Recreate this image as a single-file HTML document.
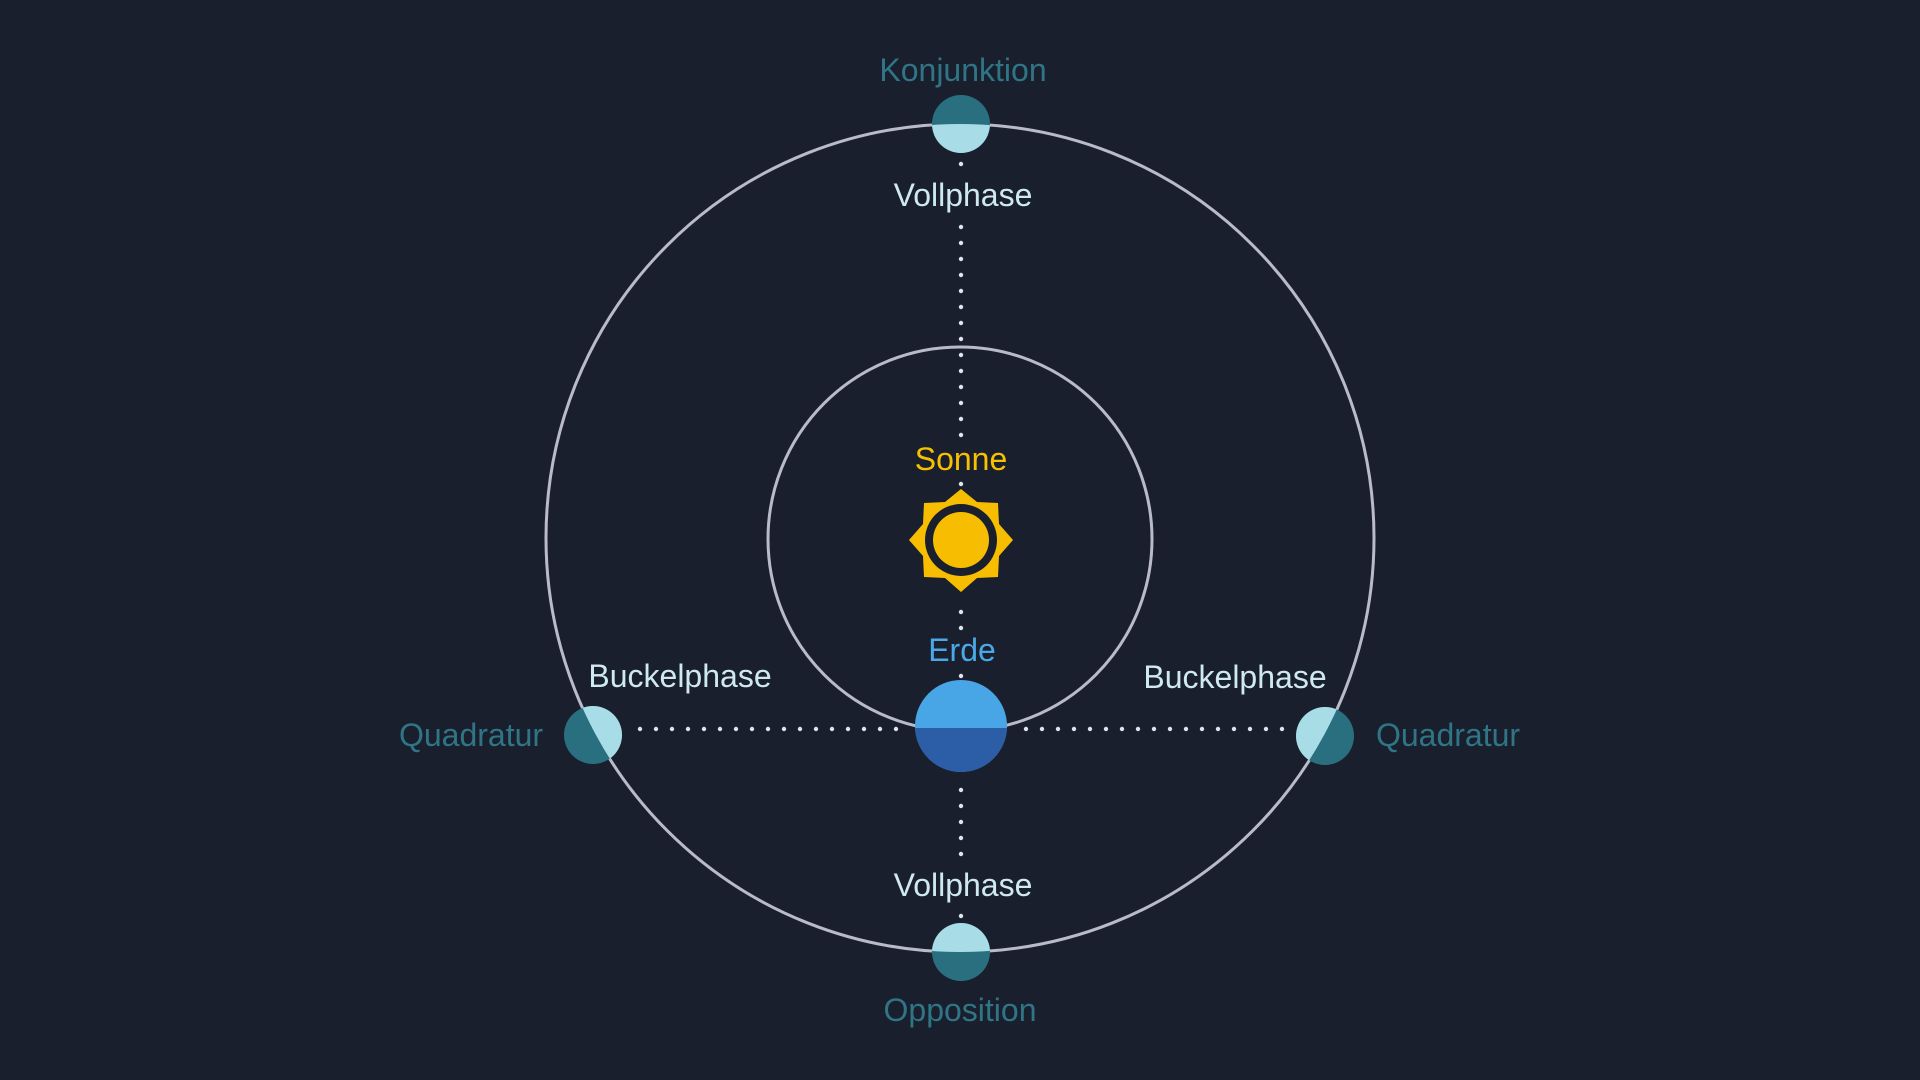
<!DOCTYPE html>
<html><head><meta charset="utf-8"><style>
html,body{margin:0;padding:0;background:#1a1f2e;}
svg{display:block}
text{font-family:"Liberation Sans",sans-serif;font-size:32px;text-anchor:middle;dominant-baseline:central}
</style></head><body>
<svg width="1920" height="1080" viewBox="0 0 1920 1080">
<defs>
<clipPath id="inO"><circle cx="960" cy="538" r="414"/></clipPath>
</defs>
<rect width="1920" height="1080" fill="#1a1f2e"/>
<circle cx="960" cy="538" r="414" fill="none" stroke="#b9bcc8" stroke-width="3"/>
<circle cx="960" cy="539" r="192" fill="none" stroke="#b9bcc8" stroke-width="3"/>
<g fill="#dde6ee">
<circle cx="961" cy="164" r="2.2"/>
<circle cx="961" cy="227" r="2.2"/><circle cx="961" cy="243" r="2.2"/><circle cx="961" cy="259" r="2.2"/><circle cx="961" cy="275" r="2.2"/><circle cx="961" cy="291" r="2.2"/><circle cx="961" cy="307" r="2.2"/><circle cx="961" cy="323" r="2.2"/><circle cx="961" cy="339" r="2.2"/><circle cx="961" cy="355" r="2.2"/><circle cx="961" cy="371" r="2.2"/><circle cx="961" cy="387" r="2.2"/><circle cx="961" cy="403" r="2.2"/><circle cx="961" cy="419" r="2.2"/><circle cx="961" cy="435" r="2.2"/>
<circle cx="961" cy="484" r="2.2"/>
<circle cx="961" cy="612" r="2.2"/><circle cx="961" cy="628" r="2.2"/>
<circle cx="961" cy="676" r="2.2"/>
<circle cx="961" cy="790" r="2.2"/><circle cx="961" cy="806" r="2.2"/><circle cx="961" cy="822" r="2.2"/><circle cx="961" cy="838" r="2.2"/><circle cx="961" cy="854" r="2.2"/>
<circle cx="961" cy="916" r="2.2"/>
</g>
<g fill="#dde6ee" id="hd">
<circle cx="640" cy="729" r="2.2"/><circle cx="656" cy="729" r="2.2"/><circle cx="672" cy="729" r="2.2"/><circle cx="688" cy="729" r="2.2"/><circle cx="704" cy="729" r="2.2"/><circle cx="720" cy="729" r="2.2"/><circle cx="736" cy="729" r="2.2"/><circle cx="752" cy="729" r="2.2"/><circle cx="768" cy="729" r="2.2"/><circle cx="784" cy="729" r="2.2"/><circle cx="800" cy="729" r="2.2"/><circle cx="816" cy="729" r="2.2"/><circle cx="832" cy="729" r="2.2"/><circle cx="848" cy="729" r="2.2"/><circle cx="864" cy="729" r="2.2"/><circle cx="880" cy="729" r="2.2"/><circle cx="896" cy="729" r="2.2"/>
<circle cx="1026" cy="729" r="2.2"/><circle cx="1042" cy="729" r="2.2"/><circle cx="1058" cy="729" r="2.2"/><circle cx="1074" cy="729" r="2.2"/><circle cx="1090" cy="729" r="2.2"/><circle cx="1106" cy="729" r="2.2"/><circle cx="1122" cy="729" r="2.2"/><circle cx="1138" cy="729" r="2.2"/><circle cx="1154" cy="729" r="2.2"/><circle cx="1170" cy="729" r="2.2"/><circle cx="1186" cy="729" r="2.2"/><circle cx="1202" cy="729" r="2.2"/><circle cx="1218" cy="729" r="2.2"/><circle cx="1234" cy="729" r="2.2"/><circle cx="1250" cy="729" r="2.2"/><circle cx="1266" cy="729" r="2.2"/><circle cx="1282" cy="729" r="2.2"/>
</g>
<!-- moons: dark full, light clipped to inside orbit -->
<g>
<circle cx="961" cy="124" r="29" fill="#2a6f80"/>
<circle cx="961" cy="124" r="29" fill="#a8dce6" clip-path="url(#inO)"/>
<circle cx="961" cy="952" r="29" fill="#2a6f80"/>
<circle cx="961" cy="952" r="29" fill="#a8dce6" clip-path="url(#inO)"/>
<circle cx="593" cy="735" r="29" fill="#2a6f80"/>
<circle cx="593" cy="735" r="29" fill="#a8dce6" clip-path="url(#inO)"/>
<circle cx="1325" cy="736" r="29" fill="#2a6f80"/>
<circle cx="1325" cy="736" r="29" fill="#a8dce6" clip-path="url(#inO)"/>
</g>
<!-- earth -->
<clipPath id="eb"><rect x="900" y="728" width="120" height="60"/></clipPath>
<circle cx="961" cy="726" r="46" fill="#48a6e6"/>
<circle cx="961" cy="726" r="46" fill="#2b5ea6" clip-path="url(#eb)"/>
<!-- sun -->
<polygon fill="#f7bd00" points="961,489 977,502 998,503 999,524 1013,540 999,556 998,577 977,578 961,592 945,578 924,577 923,556 909,540 923,524 924,503 945,502"/>
<circle cx="961" cy="540" r="36" fill="#1a1f2e"/>
<circle cx="961" cy="540" r="28" fill="#f7bd00"/>
<!-- labels -->
<text x="963" y="70" fill="#2f7585">Konjunktion</text>
<text x="963" y="195" fill="#cfe9f1">Vollphase</text>
<text x="961" y="459" fill="#f7c000">Sonne</text>
<text x="962" y="650" fill="#4aa8e8">Erde</text>
<text x="680" y="676" fill="#cfe9f1">Buckelphase</text>
<text x="1235" y="677" fill="#cfe9f1">Buckelphase</text>
<text x="471" y="735" fill="#2f7585">Quadratur</text>
<text x="1448" y="735" fill="#2f7585">Quadratur</text>
<text x="963" y="885" fill="#cfe9f1">Vollphase</text>
<text x="960" y="1010" fill="#2f7585">Opposition</text>
</svg>
</body></html>
